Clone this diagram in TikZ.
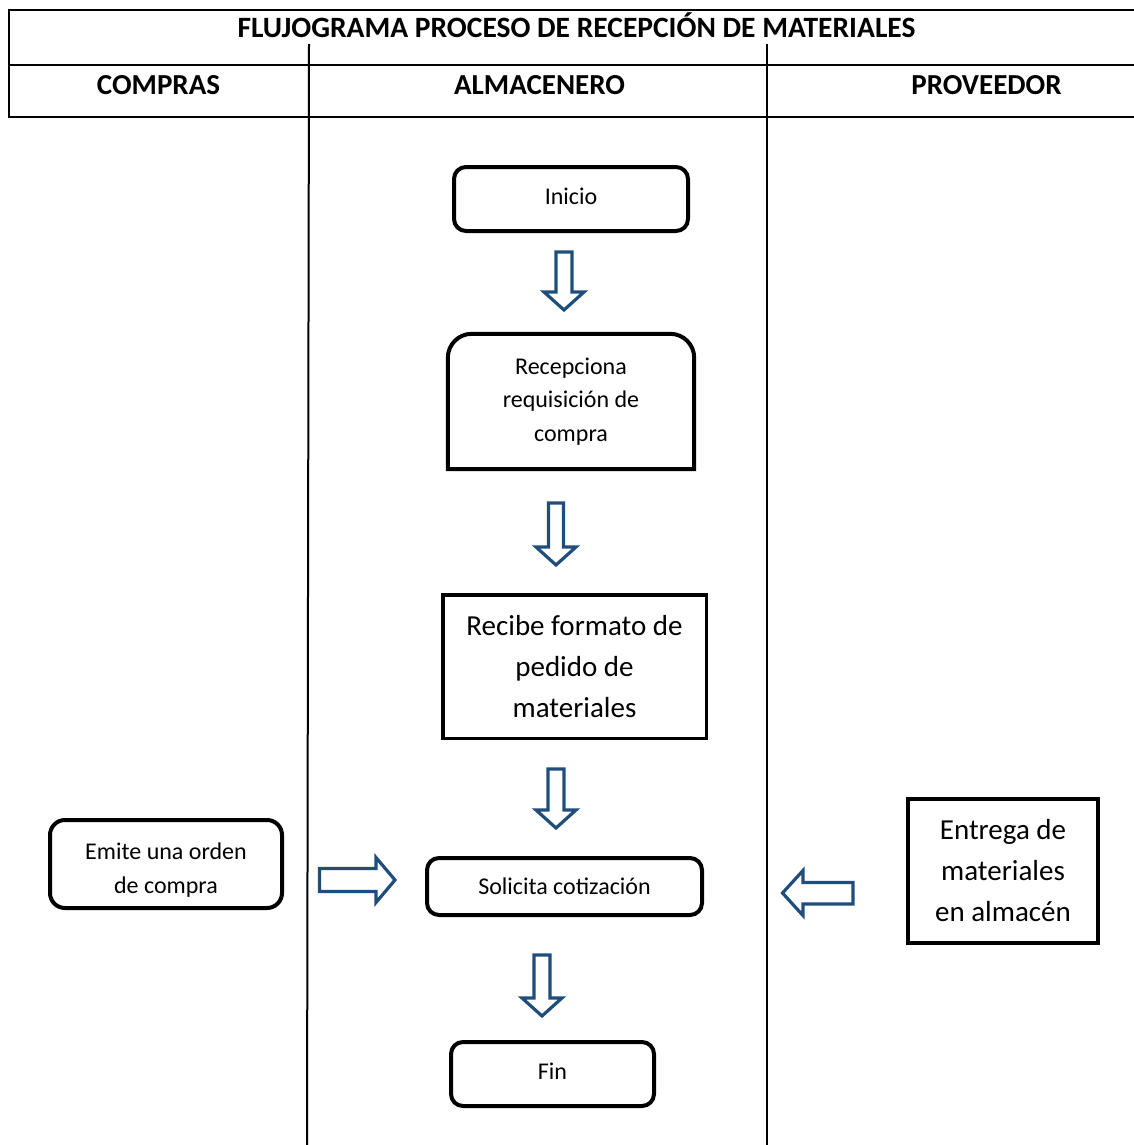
\documentclass[tikz,border=0pt]{standalone}
\usepackage{fontspec}
\setmainfont{Carlito}
\definecolor{arrowblue}{RGB}{31,78,125}
\newcommand\dnblock[5]{% centre x, top, head base, tip, half shaft width
  \draw[blk] ({#1-#5},#2) -- ({#1+#5},#2) -- ({#1+#5},#3) -- ({#1+20},#3)
    -- (#1,#4) -- ({#1-20},#3) -- ({#1-#5},#3) -- cycle;}
\begin{document}
\begin{tikzpicture}[x=1pt,y=-1pt,
  frame/.style={line width=2.6pt},
  laneline/.style={line width=2pt},
  rbox/.style={draw, line width=4pt, rounded corners=12pt, align=center,
    inner sep=0pt, font=\fontsize{24}{33.5}\selectfont},
  sbox/.style={draw, line width=3.5pt, align=center, inner sep=0pt,
    font=\fontsize{29}{41}\selectfont},
  plain/.style={align=center, inner sep=0pt, font=\fontsize{24}{33.5}\selectfont},
  blk/.style={draw=arrowblue, line width=3.2pt, fill=white, line join=miter},
  headtxt/.style={anchor=base, inner sep=0pt, font=\bfseries\fontsize{29}{35}\selectfont}]
\useasboundingbox (0,0) rectangle (1134,1145);

% table frame
\draw[frame] (1134,10) -- (9,10) -- (9,117) -- (1134,117);
\draw[frame] (9,65) -- (1134,65);
\coordinate (l1top) at (309,44);
\coordinate (l1bot) at (307,1145);
\coordinate (l2top) at (767,44);
\coordinate (l2bot) at (767,1145);
\draw[laneline] (l1top) -- (l1bot);
\draw[laneline] (l2top) -- (l2bot);

% titles
\node[headtxt, font=\bfseries\fontsize{29.5}{35}\selectfont] (title) at (576.5,38)
  {FLUJOGRAMA PROCESO DE RECEPCIÓN DE MATERIALES};
\node[headtxt] (compras) at (158.5,95) {COMPRAS};
\node[headtxt] (almacenero) at (539.5,95) {ALMACENERO};
\node[headtxt] (proveedor) at (986.5,95) {PROVEEDOR};

% process boxes
\node[rbox, minimum width=234pt, minimum height=64pt,
  label={[plain, yshift=3pt]center:Inicio}] (inicio) at (571,199) {};
\node[plain, minimum width=246pt, minimum height=135pt] (recep) at (571,401.5)
  {\raisebox{0pt}[0pt][0pt]{}Recepciona\\requisición de\\compra};
\draw[line width=4pt] (recep.south west) -- ([yshift=-24pt]recep.north west)
  arc[start angle=180, end angle=90, radius=24pt]
  -- ([xshift=-24pt]recep.north east)
  arc[start angle=90, end angle=0, radius=24pt]
  -- (recep.south east) -- cycle;
\node[sbox, minimum width=263.5pt, minimum height=143.5pt] (recibe) at (574.5,666.5)
  {Recibe formato de\\pedido de\\materiales};
\node[rbox, minimum width=275pt, minimum height=57pt] (solicita) at (564.5,886.5)
  {Solicita cotización};
\node[rbox, minimum width=203pt, minimum height=64pt,
  label={[plain, yshift=3pt]center:Fin}] (fin) at (552.5,1074) {};
\node[rbox, rounded corners=15pt, minimum width=232pt, minimum height=88pt,
  label={[plain, yshift=-6pt]center:{Emite una orden\\de compra}}] (emite) at (166,864) {};
\node[sbox, line width=4pt, minimum width=190pt, minimum height=144pt] (entrega) at (1003,871)
  {Entrega de\\materiales\\en almacén};

% block arrows between the steps
\dnblock{564}{252}{292}{310}{8}
\dnblock{556}{503}{547}{565}{7.5}
\dnblock{556}{769}{810}{828}{8}
\dnblock{542}{955}{998}{1016}{8}
% from Compras into Solicita cotización
\draw[blk] (319.5,868.5) -- (376,868.5) -- (376,857.5) -- (395,880) -- (376,902.5)
  -- (376,891.5) -- (319.5,891.5) -- cycle;
% from Proveedor into Solicita cotización
\draw[blk] (853,882.5) -- (803,882.5) -- (803,870.5) -- (782.5,893) -- (803,915.5)
  -- (803,904) -- (853,904) -- cycle;
\end{tikzpicture}
\end{document}
